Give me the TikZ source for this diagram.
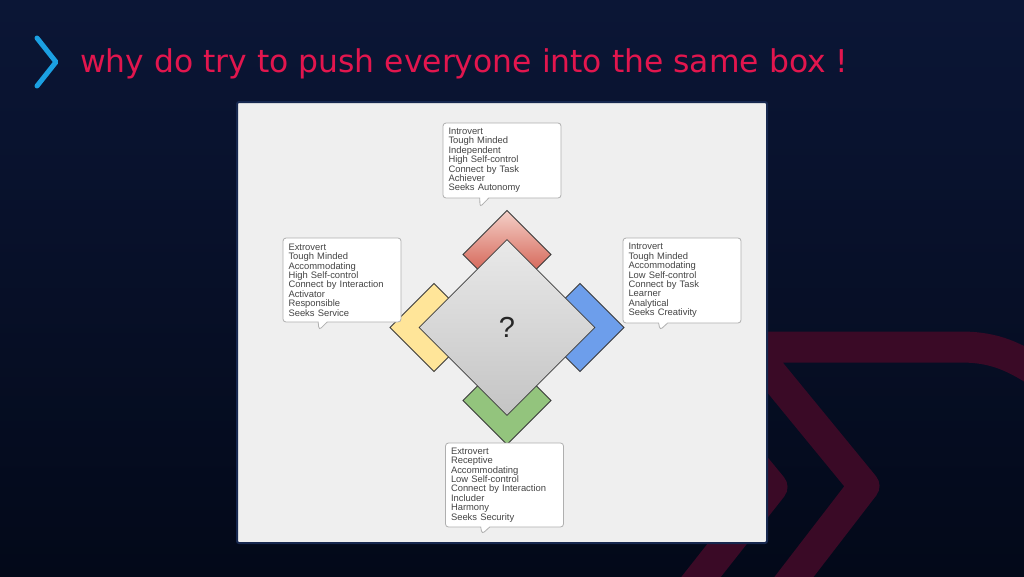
\documentclass[tikz,border=0pt]{standalone}
\usepackage{fontspec}
\newfontfamily\titlefont{DejaVu Sans}
\newfontfamily\calfont{Liberation Sans}
\usetikzlibrary{shapes.geometric,shapes.callouts}
\definecolor{bgtop}{HTML}{0B1636}
\definecolor{bgbot}{HTML}{030919}
\definecolor{maroon}{HTML}{3A0A26}
\definecolor{titlered}{HTML}{E2164E}
\definecolor{chevblue}{HTML}{1BA0E2}
\definecolor{panelgray}{HTML}{EFEFEF}
\definecolor{paneledge}{HTML}{17284F}
\definecolor{callborder}{HTML}{AFAFAF}
\definecolor{calltext}{HTML}{444444}
\definecolor{redtop}{HTML}{F4D0C8}
\definecolor{redbot}{HTML}{D6685A}
\definecolor{yel}{HTML}{FFE599}
\definecolor{blu}{HTML}{6D9EEB}
\definecolor{grn}{HTML}{93C47D}
\definecolor{dtop}{HTML}{E9E9E9}
\definecolor{dbot}{HTML}{C4C4C4}
\definecolor{shapeedge}{HTML}{3A3A3A}
\begin{document}
\begin{tikzpicture}[x=1pt,y=-1pt,
  callbox/.style={rectangle callout, draw=callborder, fill=white, line width=0.8pt,
    rounded corners=3pt, minimum width=118pt, minimum height=#1, text width=107pt,
    inner xsep=5.5pt, inner ysep=0pt, align=left,
    font=\calfont\fontsize{9.4}{9.4}\selectfont, text=calltext,
    callout pointer width=9pt},
  chev/.style={draw=shapeedge, line width=0.8pt, line join=miter},
  band/.style={draw=maroon, line width=31pt, line join=round}
]
% background
\fill[top color=bgtop, bottom color=bgbot] (0,0) rectangle (1024,576);
\useasboundingbox (0,0) rectangle (1024,576);
% decorative chevrons
\draw[band] (1050,380) .. controls (1015,356) and (995,347) .. (960,347) -- (750,347) -- (864,486) -- (767,612);
\draw[band] (692,390) -- (772,487) -- (675,610);
% title
\draw[chevblue, line width=5pt, line cap=round, line join=round] (37,38) -- (56,62) -- (37,86);
\node[anchor=base west, inner sep=0pt, font=\titlefont\fontsize{31.4}{37}\selectfont, text=titlered] (title) at (80,72) {why do try to push everyone into the same box !};
% panel
\node[draw=paneledge, line width=2pt, fill=panelgray, rounded corners=2pt, minimum width=530pt, minimum height=441pt, inner sep=0pt] (panel) at (502,322.5) {};
% coloured chevrons
\shade[chev, top color=redtop, bottom color=redbot] (507,210.5) -- (463,254.5) -- (479,270.5) -- (507,242.5) -- (535,270.5) -- (551,254.5) -- cycle;
\filldraw[chev, fill=grn] (507,444.5) -- (463,400.5) -- (479,384.5) -- (507,412.5) -- (535,384.5) -- (551,400.5) -- cycle;
\filldraw[chev, fill=yel] (390,327.5) -- (434,283.5) -- (450,299.5) -- (422,327.5) -- (450,355.5) -- (434,371.5) -- cycle;
\filldraw[chev, fill=blu] (624,327.5) -- (580,283.5) -- (564,299.5) -- (592,327.5) -- (564,355.5) -- (580,371.5) -- cycle;
% centre diamond
\node[diamond, draw=shapeedge, line width=0.8pt, top color=dtop, bottom color=dbot, minimum width=176pt, minimum height=176pt, inner sep=0pt, aspect=1, font=\calfont\fontsize{29}{30}\selectfont, text=black!85] (centre) at (507,327.5) {\raisebox{-2.5pt}{?}};
% callouts
\node[callbox=75pt, callout absolute pointer={(480,207)}] (ctop) at (502,160.5) {Introvert\\Tough Minded\\Independent\\High Self-control\\Connect by Task\\Achiever\\Seeks Autonomy};
\node[callbox=84pt, callout absolute pointer={(319,330)}] (cleft) at (342,280) {Extrovert\\Tough Minded\\Accommodating\\High Self-control\\Connect by Interaction\\Activator\\Responsible\\Seeks Service};
\node[callbox=85pt, callout absolute pointer={(660,330)}] (cright) at (682,280.5) {Introvert\\Tough Minded\\Accommodating\\Low Self-control\\Connect by Task\\Learner\\Analytical\\Seeks Creativity};
\node[callbox=84pt, callout absolute pointer={(482,534)}] (cbottom) at (504.5,485) {Extrovert\\Receptive\\Accommodating\\Low Self-control\\Connect by Interaction\\Includer\\Harmony\\Seeks Security};
\end{tikzpicture}
\end{document}
